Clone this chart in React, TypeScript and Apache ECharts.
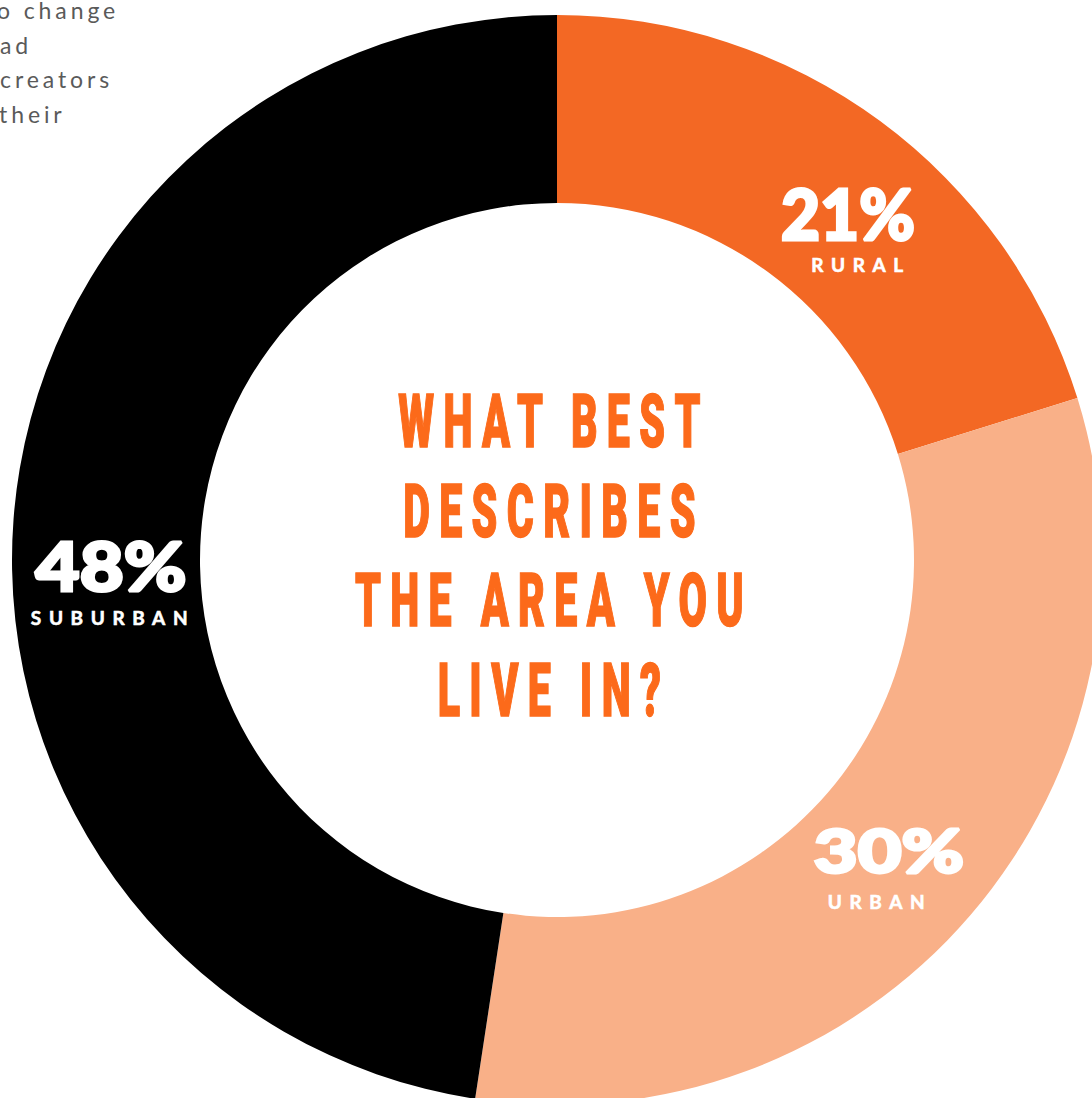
import React, { useEffect, useRef } from "react";
import * as echarts from "echarts";

// ---- data ----
const categories = ["Rural", "Urban", "Suburban"];
const categoryLabels = ["RURAL", "URBAN", "SUBURBAN"];
const shares = [20.2, 32.2, 47.6]; // slice sizes as drawn
const percentLabels = ["21%", "30%", "48%"];
const titleLines = ["WHAT BEST", "DESCRIBES", "THE AREA YOU", "LIVE IN?"];
const sideTextLines = ["o change", "ad", "creators", "their"];

// ---- styling / layout ----
const sliceColors = ["#F36824", "#F9B088", "#000000"];
const titleColor = "#FC6A1A";
const numberPos = [
  [848, 213],
  [889, 849],
  [111, 565],
];
const numberSize = [71, 61, 66];
const numberScale = [0.95, 1.24, 1.15];
const namePos = [
  [861, 264],
  [880, 901],
  [113, 617],
];
const titleY = [422, 512, 601, 691];

const css = `
#donut-chart text[style*="75px"] { letter-spacing: 17px; }
#donut-chart text[style*="19px"] { letter-spacing: 7.6px; }
#donut-chart text[style*="23px"] { letter-spacing: 3.9px; }
`;

export default function App() {
  const ref = useRef<HTMLDivElement>(null);
  useEffect(() => {
    if (!ref.current) return;
    const chart = echarts.init(ref.current, undefined, { renderer: "svg" });
    const graphics: any[] = [];
    titleLines.forEach((t, i) => {
      graphics.push({
        type: "text",
        x: 554,
        y: titleY[i],
        scaleX: 0.55,
        z: 100,
        style: {
          text: t,
          fill: titleColor,
          stroke: titleColor,
          lineWidth: 1.5,
          fontFamily: "Roboto",
          fontWeight: 900,
          fontSize: 75,
          align: "center",
          verticalAlign: "middle",
          textAlign: "center",
          textVerticalAlign: "middle",
        },
      });
    });
    percentLabels.forEach((t, i) => {
      graphics.push({
        type: "text",
        x: numberPos[i][0],
        y: numberPos[i][1],
        scaleX: numberScale[i],
        z: 100,
        style: {
          text: t,
          fill: "#FFFFFF",
          stroke: "#FFFFFF",
          lineWidth: 3,
          fontFamily: "Lato",
          fontWeight: 900,
          fontSize: numberSize[i],
          align: "center",
          verticalAlign: "middle",
          textAlign: "center",
          textVerticalAlign: "middle",
        },
      });
      graphics.push({
        type: "text",
        x: namePos[i][0],
        y: namePos[i][1],
        z: 100,
        style: {
          text: categoryLabels[i],
          fill: "#FFFFFF",
          stroke: "#FFFFFF",
          lineWidth: 0.6,
          fontFamily: "Lato",
          fontWeight: "bold",
          fontSize: 19,
          align: "center",
          verticalAlign: "middle",
          textAlign: "center",
          textVerticalAlign: "middle",
        },
      });
    });
    sideTextLines.forEach((t, i) => {
      graphics.push({
        type: "text",
        x: i === 0 ? -3 : i === 3 ? -1 : 0,
        y: 10 + i * 34.7,
        z: 100,
        style: {
          text: t,
          fill: "#5A5A5A",
          fontFamily: "Lato",
          fontWeight: 400,
          fontSize: 23,
          align: "left",
          verticalAlign: "middle",
          textAlign: "left",
          textVerticalAlign: "middle",
        },
      });
    });

    chart.setOption({
      animation: false,
      backgroundColor: "#FFFFFF",
      series: [
        {
          type: "pie",
          center: [557, 560],
          radius: [357, 545],
          startAngle: 90,
          clockwise: true,
          silent: true,
          label: { show: false },
          labelLine: { show: false },
          emphasis: { disabled: true },
          itemStyle: { borderWidth: 0 },
          data: categories.map((c, i) => ({
            name: c,
            value: shares[i],
            itemStyle: { color: sliceColors[i] },
          })),
        },
      ],
      graphic: graphics,
    });
    return () => chart.dispose();
  }, []);
  return (
    <>
      <style>{css}</style>
      <div
        id="donut-chart"
        ref={ref}
        style={{ position: "fixed", left: 0, top: 0, width: 1092, height: 1098 }}
      />
    </>
  );
}
